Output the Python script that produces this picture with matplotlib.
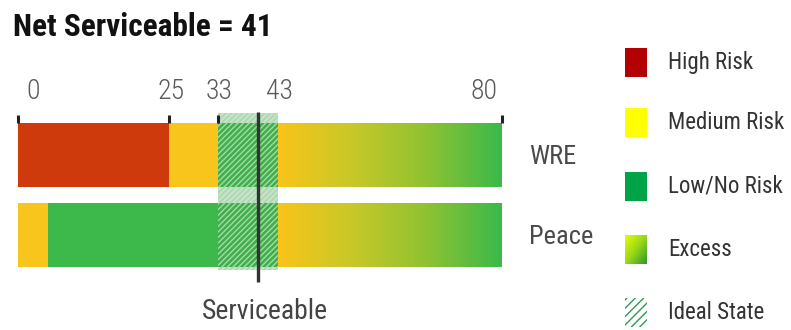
import matplotlib
matplotlib.use("Agg")
import matplotlib.pyplot as plt
import numpy as np
from matplotlib.colors import LinearSegmentedColormap
from matplotlib.patches import Rectangle

NARROW = ["Roboto Condensed", "Arial Narrow", "Liberation Sans", "DejaVu Sans"]
plt.rcParams["font.family"] = NARROW

# ---- data ----
TITLE = "Net Serviceable = 41"
rows = ["WRE", "Peace"]
row_y = [1, 0]
# (start, end, colour) solid segments per row
wre_segments = [(0, 25, "#cf3a0c"), (25, 33, "#f8c51c"), (33, 43, "#3cb94a")]
peace_segments = [(0, 5, "#f8c51c"), (5, 43, "#3cb94a")]
excess_range = (43, 80)
ideal_range = (33, 43)
serviceable_pos = 39.7
tick_labels = [0, 25, 33, 43, 80]
tick_marks = [0, 25, 33, 80]
legend_labels = ["High Risk", "Medium Risk", "Low/No Risk", "Excess", "Ideal State"]
legend_colors = ["#b30000", "#ffff00", "#00a346", None, None]

W, H = 791, 330
fig = plt.figure(figsize=(W / 100, H / 100), dpi=100)

# main axes: x 0 -> px 18, 80 -> px 502; y 1 -> px 155, 0 -> px 235
px_top, px_bot = 80, 300
ax = fig.add_axes([18 / W, (H - px_bot) / H, (502 - 18) / W, (px_bot - px_top) / H])
ax.set_xlim(0, 80)
ax.set_ylim(-(px_bot - 235) / 80, 1 + (155 - px_top) / 80)
ax.axis("off")

bar_h = 0.8
grad = LinearSegmentedColormap.from_list("excess", ["#f9c41a", "#c7c828", "#8ec232", "#3bb94b"])
gx = np.linspace(0, 1, 256).reshape(1, -1)

for y, segs in zip(row_y, [wre_segments, peace_segments]):
    for a, b, c in segs:
        ax.add_patch(Rectangle((a, y - bar_h / 2), b - a, bar_h, facecolor=c, lw=0, zorder=1))
    ax.imshow(gx, cmap=grad, aspect="auto", zorder=1,
              extent=[excess_range[0], excess_range[1], y - bar_h / 2, y + bar_h / 2])

# ideal state band
plt.rcParams["hatch.linewidth"] = 1.0
ax.add_patch(Rectangle((ideal_range[0], -0.44), ideal_range[1] - ideal_range[0], 1.44 + 0.525,
                       facecolor=(0.25, 0.62, 0.32, 0.30), edgecolor="#a9d8a6", hatch="//////",
                       lw=0, zorder=2))
ax.set_xlim(0, 80)

# serviceable marker
ax.plot([serviceable_pos, serviceable_pos], [1.54, -0.59], color="#333333", lw=2.4,
        zorder=3, solid_capstyle="butt")

# ticks and labels
for t in tick_marks:
    ax.plot([t, t], [1.40, 1.50], color="#222222", lw=2.2, zorder=3, clip_on=False,
            solid_capstyle="butt")
for i, t in enumerate(tick_labels):
    if i == 0:
        ha, dx = "left", 6
    elif i == len(tick_labels) - 1:
        ha, dx = "right", -3
    else:
        ha, dx = "center", 1
    ax.annotate(str(t), (t, 1.62), xytext=(dx, 0), textcoords="offset points",
                ha=ha, va="bottom", fontsize=20, color="#5a5a5a", fontweight="light")

for y, name in zip(row_y, rows):
    ax.text(84.5, y - 0.02, name, ha="left", va="center", fontsize=19, color="#4a4a4a")

ax.text(30.4, -0.96, "Serviceable", ha="left", va="center", fontsize=20,
        color="#444444")

fig.text(13 / W, 1 - 36 / H, TITLE, ha="left", va="baseline", fontsize=22.5,
         fontweight="bold", color="#111111")

# legend
leg_tops = [48, 108, 172, 235, 298]
for top, lab, col in zip(leg_tops, legend_labels, legend_colors):
    h = 29
    lax = fig.add_axes([625 / W, (H - top - h) / H, 22 / W, h / H])
    lax.set_xlim(0, 1)
    lax.set_ylim(0, 1)
    lax.axis("off")
    if lab == "Excess":
        gg = np.linspace(0, 1, 64)
        img = (gg[None, :] + gg[:, None]) / 2
        lg = LinearSegmentedColormap.from_list("lg", ["#e6ff00", "#9ad81a", "#2a9a2a"])
        lax.imshow(img, cmap=lg, aspect="auto", extent=[0, 1, 0, 1])
    elif lab == "Ideal State":
        lax.add_patch(Rectangle((0, 0), 1, 1, facecolor="white", edgecolor="#2e9a55",
                                hatch="////", lw=0))
    else:
        lax.add_patch(Rectangle((0, 0), 1, 1, facecolor=col, lw=0))
    fig.text(668 / W, 1 - (top + h / 2) / H, lab, ha="left", va="center", fontsize=16.5,
             color="#333333")

fig.savefig("out.png", dpi=100)
